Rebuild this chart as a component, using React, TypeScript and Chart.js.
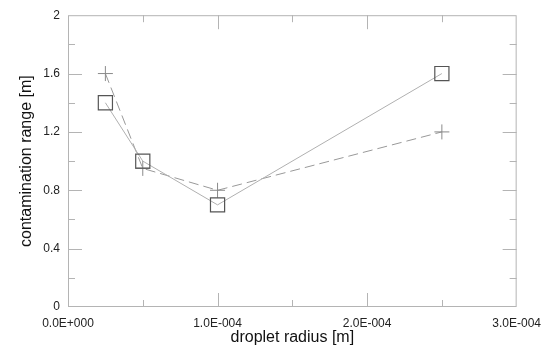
import React, { useEffect, useRef } from "react";
import { Chart, registerables } from "chart.js";

Chart.register(...registerables);

const radii = [2.5e-5, 5e-5, 1e-4, 2.5e-4];
const solidSeries = [1.4, 1.0, 0.7, 1.6];
const dashedSeries = [1.6, 0.95, 0.8, 1.2];
const xTicks = [0, 1e-4, 2e-4, 3e-4];
const yTicks = [0, 0.4, 0.8, 1.2, 1.6, 2];
const xMinorTicks = [5e-5, 1.5e-4, 2.5e-4];
const yMinorTicks = [0.2, 0.6, 1.0, 1.4, 1.8];

const AXIS_COLOR = "#b4b4b4";
const FONT = "'Liberation Sans', Arial, sans-serif";

function fmtSci(v: number): string {
  if (v === 0) return "0.0E+000";
  const exp = Math.floor(Math.log10(Math.abs(v)) + 1e-9);
  const mant = v / Math.pow(10, exp);
  const sign = exp < 0 ? "-" : "+";
  return mant.toFixed(1) + "E" + sign + String(Math.abs(exp)).padStart(3, "0");
}

const frameTicks = {
  id: "frameTicks",
  beforeDatasetsDraw(chart: any) {
    const { ctx, chartArea } = chart;
    const { left, right, top, bottom } = chartArea;
    const xs = chart.scales.x;
    const ys = chart.scales.y;
    ctx.save();
    ctx.strokeStyle = AXIS_COLOR;
    ctx.lineWidth = 1;
    ctx.strokeRect(left + 0.5, top + 0.5, right - left - 1, bottom - top - 1);
    const major = 14;
    const minor = 7;
    ctx.beginPath();
    const vx = (v: number, len: number) => {
      const px = Math.round(xs.getPixelForValue(v)) + 0.5;
      ctx.moveTo(px, bottom);
      ctx.lineTo(px, bottom - len);
      ctx.moveTo(px, top);
      ctx.lineTo(px, top + len);
    };
    const vy = (v: number, len: number) => {
      const py = Math.round(ys.getPixelForValue(v)) + 0.5;
      ctx.moveTo(left, py);
      ctx.lineTo(left + len, py);
      ctx.moveTo(right, py);
      ctx.lineTo(right - len, py);
    };
    xTicks.slice(1, -1).forEach((v) => vx(v, major));
    xMinorTicks.forEach((v) => vx(v, minor));
    yTicks.slice(1, -1).forEach((v) => vy(v, major));
    yMinorTicks.forEach((v) => vy(v, minor));
    ctx.stroke();
    ctx.restore();
  },
};

export default function App() {
  const ref = useRef<HTMLCanvasElement | null>(null);
  useEffect(() => {
    if (!ref.current) return;
    const chart = new Chart(ref.current, {
      type: "scatter",
      data: {
        datasets: [
          {
            label: "solid",
            data: radii.map((x, i) => ({ x, y: solidSeries[i] })),
            showLine: true,
            borderColor: "#b0b0b0",
            borderWidth: 1,
            pointStyle: "rect",
            pointRadius: 10,
            pointBorderColor: "#555555",
            pointBackgroundColor: "rgba(0,0,0,0)",
            pointBorderWidth: 1.2,
          },
          {
            label: "dashed",
            data: radii.map((x, i) => ({ x, y: dashedSeries[i] })),
            showLine: true,
            borderColor: "#999999",
            borderWidth: 1,
            borderDash: [10, 5],
            pointStyle: "cross",
            pointRadius: 7.5,
            pointBorderColor: "#8a8a8a",
            pointBackgroundColor: "rgba(0,0,0,0)",
            pointBorderWidth: 1,
          },
        ],
      },
      options: {
        responsive: false,
        animation: false,
        layout: { padding: { top: 13, right: 33, left: 0, bottom: 0 } },
        plugins: { legend: { display: false }, tooltip: { enabled: false } },
        scales: {
          x: {
            type: "linear",
            min: 0,
            max: 3e-4,
            afterBuildTicks: (s: any) => {
              s.ticks = xTicks.map((v) => ({ value: v }));
            },
            afterFit: (s: any) => {
              s.height = 45;
            },
            grid: { display: false, drawTicks: false },
            border: { display: false },
            ticks: {
              padding: 9,
              color: "#222",
              font: { family: FONT, size: 12 },
              maxRotation: 0,
              autoSkip: false,
              callback: (v: any) => fmtSci(Number(v)),
            },
            title: {
              display: true,
              text: "droplet radius [m]",
              color: "#111",
              font: { family: FONT, size: 16 },
              padding: { top: 0, bottom: 5 },
            },
          },
          y: {
            type: "linear",
            min: 0,
            max: 2,
            afterBuildTicks: (s: any) => {
              s.ticks = yTicks.map((v) => ({ value: v }));
            },
            afterFit: (s: any) => {
              s.width = 68;
            },
            grid: { display: false, drawTicks: false },
            border: { display: false },
            ticks: {
              padding: 8,
              color: "#222",
              font: { family: FONT, size: 12 },
              autoSkip: false,
              callback: (v: any) => String(Number(Number(v).toFixed(1))),
            },
            title: {
              display: true,
              text: "contamination range [m]",
              color: "#111",
              font: { family: FONT, size: 16 },
              padding: { top: 17, bottom: 0 },
            },
          },
        },
      },
      plugins: [frameTicks],
    });
    return () => chart.destroy();
  }, []);
  return (
    <div style={{ position: "fixed", left: 0, top: 0, width: 550, height: 352, background: "#fff" }}>
      <canvas ref={ref} width={550} height={352} />
    </div>
  );
}
